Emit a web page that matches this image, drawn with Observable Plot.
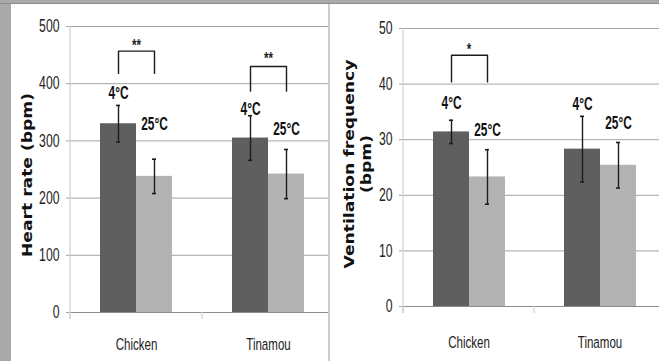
<!DOCTYPE html>
<html>
<head>
<meta charset="utf-8">
<script src="https://cdn.jsdelivr.net/npm/d3@7"></script>
<script src="https://cdn.jsdelivr.net/npm/@observablehq/plot@0.6"></script>
<style>
  html, body { margin: 0; padding: 0; }
  body { width: 659px; height: 361px; background: #a9a9a9; position: relative; overflow: hidden; }
  .panel { position: absolute; top: 4px; height: 357px; background: #fff; overflow: hidden; }
  #left { left: 11px; width: 317px; }
  #right { left: 330px; width: 329px; }
  #sep { position: absolute; left: 328px; top: 4px; width: 2px; height: 357px; background: #cbcbcb; }
  #topline { position: absolute; left: 0; top: 3px; width: 659px; height: 1px; background: #8f8f8f; }
</style>
</head>
<body>
<div id="topline"></div>
<div id="left" class="panel"></div>
<div id="sep"></div>
<div id="right" class="panel"></div>
<script>
// ---- data ----
const categories = ["Chicken", "Tinamou"];
const temps = ["4°C", "25°C"];
const heartTicks = [0, 100, 200, 300, 400, 500];
const ventTicks = [0, 10, 20, 30, 40, 50];
// order: Chicken 4°C, Chicken 25°C, Tinamou 4°C, Tinamou 25°C
const heartMean = [330, 238, 305, 242];
const heartErr = [32, 30, 39, 43];
const ventMean = [31.4, 23.3, 28.3, 25.4];
const ventErr = [2.1, 4.9, 5.9, 4.1];
// annotation heights (data units)
const heartLabelY = [383, 328, 355, 320];
const ventLabelY = [36.6, 31.7, 36.4, 32.9];
const heartSig = [
  {category: "Chicken", low: 418, high: 457, mark: "**", markY: 467},
  {category: "Tinamou", low: 387, high: 430, mark: "**", markY: 444}
];
const ventSig = [
  {category: "Chicken", low: 40.4, high: 45.2, mark: "*", markY: 46.3}
];
const heartTitle = ["Heart rate (bpm)"];
const ventTitle = ["Ventilation frequency", "(bpm)"];

const FONT = "'Liberation Sans', Arial, sans-serif";
const SQUASH = 0.68;

function drawPanel(cfg) {
  const rows = [];
  categories.forEach((c, i) => temps.forEach((t, j) => {
    const k = i * temps.length + j;
    rows.push({category: c, temp: t, value: cfg.mean[k], err: cfg.err[k], labelY: cfg.labelY[k]});
  }));
  const bracketPts = cfg.sig.flatMap((s, i) => [
    {id: i, category: s.category, temp: temps[0], y: s.low},
    {id: i, category: s.category, temp: temps[0], y: s.high},
    {id: i, category: s.category, temp: temps[1], y: s.high},
    {id: i, category: s.category, temp: temps[1], y: s.low}
  ]);
  const yMax = cfg.ticks[cfg.ticks.length - 1];
  const plot = Plot.plot({
    width: cfg.width,
    height: cfg.height,
    marginTop: cfg.marginTop,
    marginBottom: cfg.marginBottom,
    marginLeft: cfg.marginLeft,
    marginRight: 0,
    style: {fontFamily: FONT, fontSize: "17px", color: "#222", background: "transparent", overflow: "hidden"},
    fx: {domain: categories, range: cfg.fxRange, padding: 0, label: null},
    x: {domain: temps, paddingInner: 0, paddingOuter: 0.79, axis: null},
    y: {domain: [0, yMax], label: null},
    color: {domain: temps, range: ["#5f5f5f", "#b3b3b3"]},
    marks: [
      Plot.gridY(cfg.ticks, {stroke: "#a3a3a3", strokeOpacity: 1}),
      Plot.barY(rows, {fx: "category", x: "temp", y: "value", fill: "temp"}),
      Plot.ruleY([0], {stroke: "#8c8c8c"}),
      Plot.ruleX(rows, {fx: "category", x: "temp", y1: d => d.value - d.err, y2: d => d.value + d.err, stroke: "#1c1c1c", strokeWidth: 1.4}),
      Plot.tickY(rows, {fx: "category", x: "temp", y: d => d.value + d.err, insetLeft: 16, insetRight: 16, stroke: "#1c1c1c", strokeWidth: 1.6}),
      Plot.tickY(rows, {fx: "category", x: "temp", y: d => d.value - d.err, insetLeft: 16, insetRight: 16, stroke: "#1c1c1c", strokeWidth: 1.6}),
      Plot.text(rows, {fx: "category", x: "temp", y: "labelY", text: "temp", fontWeight: "bold", fontSize: 17.5, fill: "#111"}),
      Plot.line(bracketPts, {fx: "category", x: "temp", y: "y", z: "id", stroke: "#1c1c1c", strokeWidth: 1.4}),
      Plot.text(cfg.sig, {fx: "category", y: "markY", text: "mark", fontSize: 17, fontWeight: "bold", fill: "#222"}),
      Plot.axisY(cfg.ticks, {tickSize: 4, tickPadding: 7, stroke: "#a3a3a3", fill: "#222", fontSize: 18, label: null}),
      Plot.axisFx({anchor: "bottom", tickSize: 0, tickPadding: cfg.fxPad, fill: "#222", fontSize: 17, label: null})
    ]
  });

  const svg = d3.select(plot.tagName.toLowerCase() === "svg" ? plot : plot.querySelector("svg"));

  // squash all Plot text horizontally (the reference chart is horizontally compressed)
  svg.selectAll("text").each(function() {
    const el = this;
    const tr = el.getAttribute("transform") || "";
    const xa = el.getAttribute("x");
    const ok = xa != null && isFinite(+xa);
    const x = ok ? +xa : 0;
    if (ok) el.removeAttribute("x");
    el.setAttribute("transform", `${tr} translate(${x},0) scale(${SQUASH},1)`);
  });

  // axis lines drawn from the plot's own scales
  const fxS = plot.scale("fx"), yS = plot.scale("y");
  const y0 = yS.apply(0), yT = yS.apply(yMax);
  const g = svg.append("g");
  const xAxis = fxS.apply(categories[0]);
  g.append("line").attr("x1", xAxis).attr("x2", xAxis).attr("y1", yT).attr("y2", y0 + 7)
    .attr("stroke", "#d0d0d0").attr("stroke-width", 1.2);
  categories.forEach(c => {
    const x = fxS.apply(c);
    g.append("line").attr("x1", x).attr("x2", x).attr("y1", y0).attr("y2", y0 + 7)
      .attr("stroke", "#d0d0d0").attr("stroke-width", 1.2);
  });
  // rotated axis title
  const t = svg.append("g").attr("font-family", "'DejaVu Sans', sans-serif")
    .attr("font-weight", "bold").attr("font-size", 13.5).attr("fill", "#111");
  cfg.title.forEach((line, i) => {
    t.append("text")
      .attr("transform", `translate(${cfg.titleX + i * cfg.titleLineGap},${cfg.titleY}) rotate(-90) scale(1.27,1)`)
      .attr("text-anchor", "middle")
      .text(line);
  });
  document.getElementById(cfg.el).appendChild(plot);
}

drawPanel({
  el: "left", width: 317, height: 357, marginTop: 22, marginBottom: 49, marginLeft: 59,
  fxRange: [59, 323], fxPad: 25, ticks: heartTicks,
  mean: heartMean, err: heartErr, labelY: heartLabelY, sig: heartSig,
  title: heartTitle, titleX: 21, titleY: 171, titleLineGap: 0
});
drawPanel({
  el: "right", width: 329, height: 357, marginTop: 24, marginBottom: 55, marginLeft: 73,
  fxRange: [73, 335], fxPad: 29, ticks: ventTicks,
  mean: ventMean, err: ventErr, labelY: ventLabelY, sig: ventSig,
  title: ventTitle, titleX: 23.5, titleY: 160, titleLineGap: 17
});
</script>
</body>
</html>
